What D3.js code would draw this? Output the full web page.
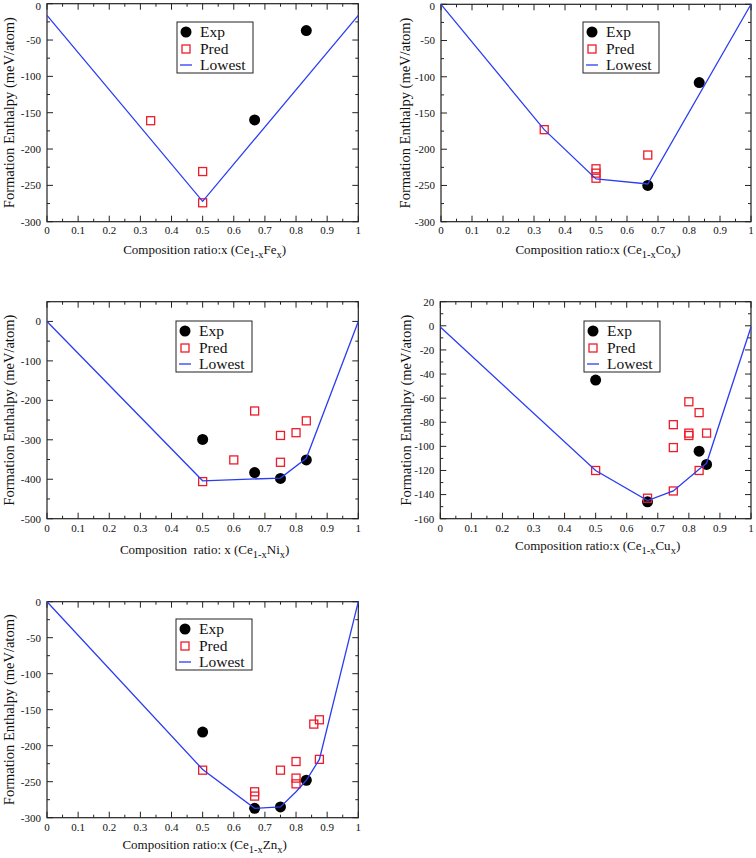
<!DOCTYPE html>
<html>
<head>
<meta charset="utf-8">
<script src="https://cdn.jsdelivr.net/npm/d3@7"></script>
<style>
  html, body { margin: 0; padding: 0; background: #fff; }
  svg { display: block; }
  text { font-family: "Liberation Serif", "Times New Roman", serif; fill: #111; }
</style>
</head>
<body>
<svg id="chart" width="756" height="858"></svg>
<script>
// ---------- DATA ----------
const xTicks = [0, 0.1, 0.2, 0.3, 0.4, 0.5, 0.6, 0.7, 0.8, 0.9, 1];
const legendLabels = ["Exp", "Pred", "Lowest"];

// Ce(1-x)Fe(x)
const feExp  = [[0.667, -160], [0.833, -37]];
const fePred = [[0.333, -161], [0.5, -231], [0.5, -274]];
const feLow  = [[0, -16], [0.5, -272], [1, -16]];
const feYTicks = [0, -50, -100, -150, -200, -250, -300];

// Ce(1-x)Co(x)
const coExp  = [[0.667, -250], [0.833, -108]];
const coPred = [[0.333, -173], [0.5, -227], [0.5, -233], [0.5, -240], [0.667, -208]];
const coLow  = [[0, 0], [0.333, -173], [0.5, -241], [0.667, -248], [1, 0]];
const coYTicks = [0, -50, -100, -150, -200, -250, -300];

// Ce(1-x)Ni(x)
const niExp  = [[0.5, -299], [0.667, -383], [0.75, -398], [0.833, -351]];
const niPred = [[0.5, -406], [0.6, -351], [0.667, -227], [0.75, -289], [0.75, -357], [0.8, -282], [0.833, -252]];
const niLow  = [[0, 0], [0.5, -404], [0.75, -397], [0.833, -347], [1, 0]];
const niYTicks = [0, -100, -200, -300, -400, -500];

// Ce(1-x)Cu(x)
const cuExp  = [[0.5, -45], [0.667, -146], [0.833, -104], [0.857, -115]];
const cuPred = [[0.5, -120], [0.667, -143], [0.75, -82], [0.75, -101], [0.75, -137], [0.8, -63], [0.8, -89], [0.8, -91], [0.833, -72], [0.833, -120], [0.857, -89]];
const cuLow  = [[0, -1], [0.5, -120], [0.667, -145], [0.75, -137], [0.833, -119], [0.857, -114], [1, -1]];
const cuYTicks = [20, 0, -20, -40, -60, -80, -100, -120, -140, -160];

// Ce(1-x)Zn(x)
const znExp  = [[0.5, -181], [0.667, -287], [0.75, -285], [0.833, -248]];
const znPred = [[0.5, -234], [0.667, -264], [0.667, -270], [0.75, -234], [0.8, -222], [0.8, -245], [0.8, -253], [0.857, -170], [0.875, -164], [0.875, -219]];
const znLow  = [[0, 0], [0.5, -233], [0.667, -287], [0.75, -285], [0.8, -264], [0.833, -248], [0.875, -219], [1, 0]];
const znYTicks = [0, -50, -100, -150, -200, -250, -300];

// ---------- LAYOUT ----------
const panels = [
  { el: "Fe", exp: feExp, pred: fePred, low: feLow, yTicks: feYTicks, yDomain: [-300, 0], yMinorStep: 25,
    box: [47, 358.3, 3.7, 221.7], legend: [177, 22], yTitleX: 14, xLabDy: 12, xTitleDy: 32, prefix: "Composition ratio:x (Ce" },
  { el: "Co", exp: coExp, pred: coPred, low: coLow, yTicks: coYTicks, yDomain: [-300, 0], yMinorStep: 25,
    box: [441, 751, 4.3, 221.7], legend: [583, 22], yTitleX: 410, xLabDy: 12, xTitleDy: 32, prefix: "Composition ratio:x (Ce" },
  { el: "Ni", exp: niExp, pred: niPred, low: niLow, yTicks: niYTicks, yDomain: [-500, 50], yMinorStep: 50,
    box: [47, 358.3, 301.7, 518.7], legend: [176, 321], yTitleX: 14, xLabDy: 13, xTitleDy: 35, prefix: "Composition  ratio: x (Ce" },
  { el: "Cu", exp: cuExp, pred: cuPred, low: cuLow, yTicks: cuYTicks, yDomain: [-160, 20], yMinorStep: 10,
    box: [440.3, 751, 301.7, 518.7], legend: [584, 321], yTitleX: 411, xLabDy: 13, xTitleDy: 31, prefix: "Composition ratio:x (Ce" },
  { el: "Zn", exp: znExp, pred: znPred, low: znLow, yTicks: znYTicks, yDomain: [-300, 0], yMinorStep: 25,
    box: [47, 358.3, 601.7, 817.7], legend: [176, 619], yTitleX: 14, xLabDy: 13, xTitleDy: 31, prefix: "Composition ratio:x (Ce" }
];

const BLUE = "#2b3df2";
const RED = "#ee1c2a";
const svg = d3.select("#chart");

function drawPanel(p) {
  const [L, R, T, B] = p.box;
  const x = d3.scaleLinear().domain([0, 1]).range([L, R]);
  const y = d3.scaleLinear().domain(p.yDomain).range([B, T]);
  const g = svg.append("g");

  // minor and major ticks (inside, all four sides)
  const xMinor = d3.range(0, 1.0001, 0.05);
  const yMinor = d3.range(p.yDomain[0], p.yDomain[1] + 0.001, p.yMinorStep);
  const tickG = g.append("g").attr("stroke", "#222").attr("stroke-width", 1);
  xMinor.forEach(v => {
    const major = Math.abs(Math.round(v * 10) - v * 10) < 1e-6;
    const len = major ? 6 : 3;
    tickG.append("line").attr("x1", x(v)).attr("x2", x(v)).attr("y1", B).attr("y2", B - len);
    tickG.append("line").attr("x1", x(v)).attr("x2", x(v)).attr("y1", T).attr("y2", T + len);
  });
  yMinor.forEach(v => {
    const major = p.yTicks.includes(v);
    const len = major ? 6 : 3;
    tickG.append("line").attr("x1", L).attr("x2", L + len).attr("y1", y(v)).attr("y2", y(v));
    tickG.append("line").attr("x1", R).attr("x2", R - len).attr("y1", y(v)).attr("y2", y(v));
  });

  // frame
  g.append("rect").attr("x", L).attr("y", T).attr("width", R - L).attr("height", B - T)
    .attr("fill", "none").attr("stroke", "#222").attr("stroke-width", 1.2);

  // tick labels
  g.append("g").selectAll("text").data(xTicks).join("text")
    .attr("x", d => x(d)).attr("y", B + p.xLabDy)
    .attr("text-anchor", "middle").attr("font-size", 11)
    .text(d => d === 0 ? "0" : d === 1 ? "1" : d.toFixed(1));
  g.append("g").selectAll("text").data(p.yTicks).join("text")
    .attr("x", L - 6).attr("y", d => Math.max(y(d), 6.5)).attr("dy", "0.35em")
    .attr("text-anchor", "end").attr("font-size", 11)
    .text(d => d < 0 ? "-" + Math.abs(d) : String(d));

  // axis titles
  g.append("text")
    .attr("transform", `translate(${p.yTitleX},${(T + B) / 2}) rotate(-90)`)
    .attr("text-anchor", "middle").attr("font-size", 14.5)
    .text("Formation Enthalpy (meV/atom)");
  const xt = g.append("text")
    .attr("x", (L + R) / 2 + 2).attr("y", B + p.xTitleDy)
    .attr("text-anchor", "middle").attr("font-size", 13)
    .style("white-space", "pre");
  xt.append("tspan").text(p.prefix);
  xt.append("tspan").attr("font-size", 10.5).attr("dy", 4).text("1-x");
  xt.append("tspan").attr("dy", -4).text(p.el);
  xt.append("tspan").attr("font-size", 10.5).attr("dy", 4).text("x");
  xt.append("tspan").attr("dy", -4).text(")");

  // data: Exp, Pred, Lowest
  g.append("g").selectAll("circle").data(p.exp).join("circle")
    .attr("cx", d => x(d[0])).attr("cy", d => y(d[1])).attr("r", 5.5).attr("fill", "#000");
  const s = 8;
  g.append("g").selectAll("rect").data(p.pred).join("rect")
    .attr("x", d => x(d[0]) - s / 2).attr("y", d => y(d[1]) - s / 2)
    .attr("width", s).attr("height", s)
    .attr("fill", "none").attr("stroke", RED).attr("stroke-width", 1.3);
  g.append("path").datum(p.low)
    .attr("d", d3.line().x(d => x(d[0])).y(d => y(d[1])))
    .attr("fill", "none").attr("stroke", BLUE).attr("stroke-width", 1.3);

  // legend
  const [lx, ly] = p.legend;
  const lg = g.append("g").attr("transform", `translate(${lx},${ly})`);
  lg.append("rect").attr("x", 0).attr("y", 0).attr("width", 76).attr("height", 51)
    .attr("fill", "#fff").attr("stroke", "#222").attr("stroke-width", 1);
  const rows = [10, 27, 43];
  lg.append("circle").attr("cx", 9).attr("cy", rows[0]).attr("r", 5.5).attr("fill", "#000");
  lg.append("rect").attr("x", 9 - s / 2).attr("y", rows[1] - s / 2).attr("width", s).attr("height", s)
    .attr("fill", "none").attr("stroke", RED).attr("stroke-width", 1.3);
  lg.append("line").attr("x1", 3).attr("x2", 15).attr("y1", rows[2]).attr("y2", rows[2])
    .attr("stroke", BLUE).attr("stroke-width", 1.3);
  legendLabels.forEach((t, i) => {
    lg.append("text").attr("x", 23).attr("y", rows[i]).attr("dy", "0.34em")
      .attr("font-size", 15.5).text(t);
  });
}

panels.forEach(drawPanel);
</script>
</body>
</html>
